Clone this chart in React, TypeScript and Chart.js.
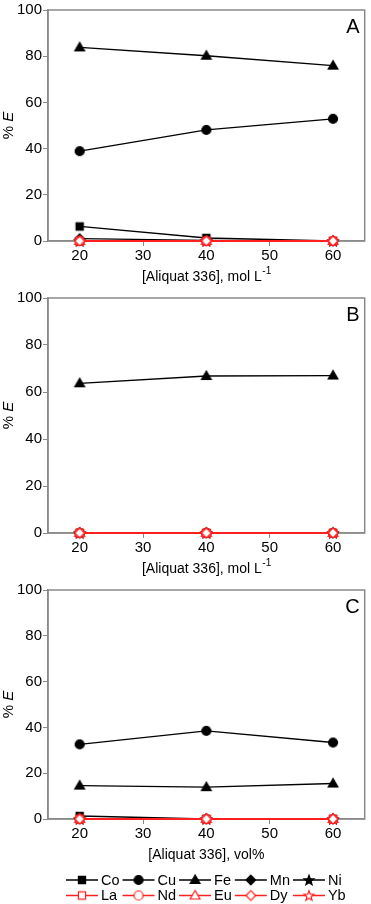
import React, { useEffect, useRef } from "react";
import { Chart, registerables } from "chart.js";

Chart.register(...registerables);

// ---------- data ----------
const xValues = [20, 40, 60];
const xTicks = [20, 30, 40, 50, 60];
const yTicks = [0, 20, 40, 60, 80, 100];
const elements = ["Co", "Cu", "Fe", "Mn", "Ni", "La", "Nd", "Eu", "Dy", "Yb"];
const shapes = ["square", "circle", "triangle", "diamond", "star", "square", "circle", "triangle", "diamond", "star"];
const colors = ["#000", "#000", "#000", "#000", "#000", "#ff2020", "#ff2020", "#ff2020", "#ff2020", "#ff2020"];
const filled = [true, true, true, true, true, false, false, false, false, false];

// Panel A
const aCo = [6.3, 1.3, 0];
const aCu = [38.9, 48.1, 52.9];
const aFe = [83.8, 80.2, 75.9];
const aMn = [1.0, 0.3, 0];
const aNi = [0, 0, 0];
const aLa = [0, 0, 0];
const aNd = [0, 0, 0];
const aEu = [0, 0, 0];
const aDy = [0, 0, 0];
const aYb = [0, 0, 0];
// Panel B
const bCo = [0, 0, 0];
const bCu = [0, 0, 0];
const bFe = [63.7, 66.8, 67.0];
const bMn = [0, 0, 0];
const bNi = [0, 0, 0];
const bLa = [0, 0, 0];
const bNd = [0, 0, 0];
const bEu = [0, 0, 0];
const bDy = [0, 0, 0];
const bYb = [0, 0, 0];
// Panel C
const cCo = [1.3, 0, 0];
const cCu = [32.6, 38.5, 33.4];
const cFe = [14.6, 13.9, 15.5];
const cMn = [0, 0, 0];
const cNi = [0, 0, 0];
const cLa = [0, 0, 0];
const cNd = [0, 0, 0];
const cEu = [0, 0, 0];
const cDy = [0, 0, 0];
const cYb = [0, 0, 0];

const panelLetters = ["A", "B", "C"];
const xTitles = ["[Aliquat 336], mol L", "[Aliquat 336], mol L", "[Aliquat 336], vol%"];
const xTitleSups = ["-1", "-1", ""];
const yTitleMain = "% ";
const yTitleItalic = "E";

const panelSeries = [
  [aCo, aCu, aFe, aMn, aNi, aLa, aNd, aEu, aDy, aYb],
  [bCo, bCu, bFe, bMn, bNi, bLa, bNd, bEu, bDy, bYb],
  [cCo, cCu, cFe, cMn, cNi, cLa, cNd, cEu, cDy, cYb],
];

// ---------- layout ----------
const FONT = '"Liberation Sans", Arial, sans-serif';
const panels = [
  { top: 0, height: 288, padTop: 7, axisH: 47, legend: false },
  { top: 288, height: 292, padTop: 10, axisH: 47, legend: false },
  { top: 580, height: 324, padTop: 5, axisH: 85, legend: true },
];

function makeMarker(shape: string, color: string, fill: boolean): HTMLCanvasElement {
  const c = document.createElement("canvas");
  c.width = 14;
  c.height = 14;
  const ctx = c.getContext("2d")!;
  const cx = 7, cy = 7;
  ctx.beginPath();
  if (shape === "square") {
    ctx.rect(cx - 3.6, cy - 3.6, 7.2, 7.2);
  } else if (shape === "circle") {
    ctx.arc(cx, cy, 4.5, 0, Math.PI * 2);
  } else if (shape === "triangle") {
    ctx.moveTo(cx, cy - 5);
    ctx.lineTo(cx - 4.9, cy + 3.5);
    ctx.lineTo(cx + 4.9, cy + 3.5);
    ctx.closePath();
  } else if (shape === "diamond") {
    ctx.moveTo(cx, cy - 4.8);
    ctx.lineTo(cx + 4.8, cy);
    ctx.lineTo(cx, cy + 4.8);
    ctx.lineTo(cx - 4.8, cy);
    ctx.closePath();
  } else if (shape === "star") {
    for (let k = 0; k < 10; k++) {
      const r = k % 2 === 0 ? 5.2 : 2.2;
      const a = -Math.PI / 2 + (k * Math.PI) / 5;
      const px = cx + r * Math.cos(a);
      const py = cy + 0.5 + r * Math.sin(a);
      if (k === 0) ctx.moveTo(px, py);
      else ctx.lineTo(px, py);
    }
    ctx.closePath();
  }
  ctx.fillStyle = fill ? color : "#fff";
  ctx.fill();
  ctx.lineWidth = 1.2;
  ctx.strokeStyle = color;
  ctx.stroke();
  return c;
}

const decor = {
  id: "decor",
  beforeDatasetsDraw(chart: any) {
    const { ctx, chartArea } = chart;
    ctx.save();
    ctx.strokeStyle = "#8a8a8a";
    ctx.lineWidth = 1.5;
    ctx.strokeRect(chartArea.left, chartArea.top, chartArea.right - chartArea.left, chartArea.bottom - chartArea.top);
    ctx.restore();
  },
  afterDraw(chart: any, _a: any, o: any) {
    const { ctx, chartArea } = chart;
    const { left, right, top, bottom } = chartArea;
    ctx.save();
    ctx.fillStyle = "#000";
    // panel letter
    ctx.font = `20px ${FONT}`;
    ctx.textAlign = "right";
    ctx.textBaseline = "middle";
    ctx.fillText(o.letter, right - 5, top + 17);
    // x title
    ctx.font = `14px ${FONT}`;
    const mainW = ctx.measureText(o.xTitle).width;
    ctx.font = `10px ${FONT}`;
    const supW = o.xSup ? ctx.measureText(o.xSup).width : 0;
    const tx = (left + right) / 2 - (mainW + supW) / 2;
    const ty = bottom + 36;
    ctx.textAlign = "left";
    ctx.font = `14px ${FONT}`;
    ctx.fillText(o.xTitle, tx, ty);
    if (o.xSup) {
      ctx.font = `10px ${FONT}`;
      ctx.fillText(o.xSup, tx + mainW + 0.5, ty - 6);
    }
    // y title
    ctx.save();
    ctx.translate(9, (top + bottom) / 2);
    ctx.rotate(-Math.PI / 2);
    ctx.font = `15px ${FONT}`;
    const w1 = ctx.measureText(yTitleMain).width;
    ctx.font = `italic 15px ${FONT}`;
    const w2 = ctx.measureText(yTitleItalic).width;
    ctx.textAlign = "left";
    ctx.font = `15px ${FONT}`;
    ctx.fillText(yTitleMain, -(w1 + w2) / 2, 0);
    ctx.font = `italic 15px ${FONT}`;
    ctx.fillText(yTitleItalic, -(w1 + w2) / 2 + w1, 0);
    ctx.restore();
    // legend
    if (o.legend) {
      const ds = chart.data.datasets;
      const rows = [ds.slice(0, 5), ds.slice(5, 10)];
      const rowY = [bottom + 61, bottom + 76.5];
      const lineLen = 32;
      ctx.font = `14.5px ${FONT}`;
      ctx.textBaseline = "middle";
      let x = 66;
      for (let col = 0; col < 5; col++) {
        let maxW = 0;
        for (let r = 0; r < 2; r++) {
          const d = rows[r][col];
          maxW = Math.max(maxW, ctx.measureText(d.label).width);
        }
        for (let r = 0; r < 2; r++) {
          const d = rows[r][col];
          const y = rowY[r];
          ctx.strokeStyle = d.borderColor;
          ctx.lineWidth = 1.5;
          ctx.beginPath();
          ctx.moveTo(x, y);
          ctx.lineTo(x + lineLen, y);
          ctx.stroke();
          const img = d.pointStyle as HTMLCanvasElement;
          ctx.drawImage(img, x + lineLen / 2 - img.width / 2, y - img.height / 2);
          ctx.fillStyle = "#000";
          ctx.fillText(d.label, x + lineLen + 3, y + 0.5);
        }
        x += lineLen + 3 + maxW + 3;
      }
    }
    ctx.restore();
  },
};

function Panel({ index }: { index: number }) {
  const ref = useRef<HTMLCanvasElement | null>(null);
  const p = panels[index];
  useEffect(() => {
    const series = panelSeries[index];
    const datasets = elements.map((el, i) => ({
      label: el,
      data: xValues.map((x, j) => ({ x, y: series[i][j] })),
      borderColor: colors[i],
      borderWidth: 1.3,
      pointStyle: makeMarker(shapes[i], colors[i], filled[i]),
      pointRadius: 5,
      order: el === "Dy" ? -2 : filled[i] ? 0 : -1,
      clip: false as any,
      tension: 0,
    }));
    const chart = new Chart(ref.current!, {
      type: "line",
      data: { datasets },
      plugins: [decor as any],
      options: {
        animation: false,
        responsive: false,
        devicePixelRatio: 1,
        layout: { padding: { top: p.padTop, right: 4, left: 0, bottom: 0 } },
        scales: {
          x: {
            type: "linear",
            min: 15,
            max: 65,
            afterBuildTicks: (s: any) => {
              s.ticks = xTicks.map((v) => ({ value: v }));
            },
            afterFit: (s: any) => {
              s.height = p.axisH;
            },
            grid: { drawOnChartArea: false, drawTicks: true, tickLength: 5, color: "#8a8a8a", lineWidth: 1 },
            border: { display: true, color: "#8a8a8a", width: 1.5 },
            ticks: { font: { family: FONT, size: 15 }, color: "#000", padding: 1, maxRotation: 0 },
          },
          y: {
            type: "linear",
            min: 0,
            max: 100,
            afterBuildTicks: (s: any) => {
              s.ticks = yTicks.map((v) => ({ value: v }));
            },
            afterFit: (s: any) => {
              s.width = 48;
            },
            grid: { drawOnChartArea: false, drawTicks: true, tickLength: 5, color: "#8a8a8a", lineWidth: 1 },
            border: { display: true, color: "#8a8a8a", width: 1.5 },
            ticks: { font: { family: FONT, size: 15 }, color: "#000", padding: 1 },
          },
        },
        plugins: {
          legend: { display: false },
          tooltip: { enabled: false },
          decor: {
            letter: panelLetters[index],
            xTitle: xTitles[index],
            xSup: xTitleSups[index],
            legend: p.legend,
          },
        } as any,
      },
    });
    return () => chart.destroy();
  }, [index]);
  return (
    <canvas
      ref={ref}
      width={371}
      height={p.height}
      style={{ position: "absolute", left: 0, top: p.top, width: 371, height: p.height, display: "block" }}
    />
  );
}

export default function App() {
  return (
    <div style={{ position: "absolute", left: 0, top: 0, width: 371, height: 904, background: "#fff" }}>
      <Panel index={0} />
      <Panel index={1} />
      <Panel index={2} />
    </div>
  );
}
